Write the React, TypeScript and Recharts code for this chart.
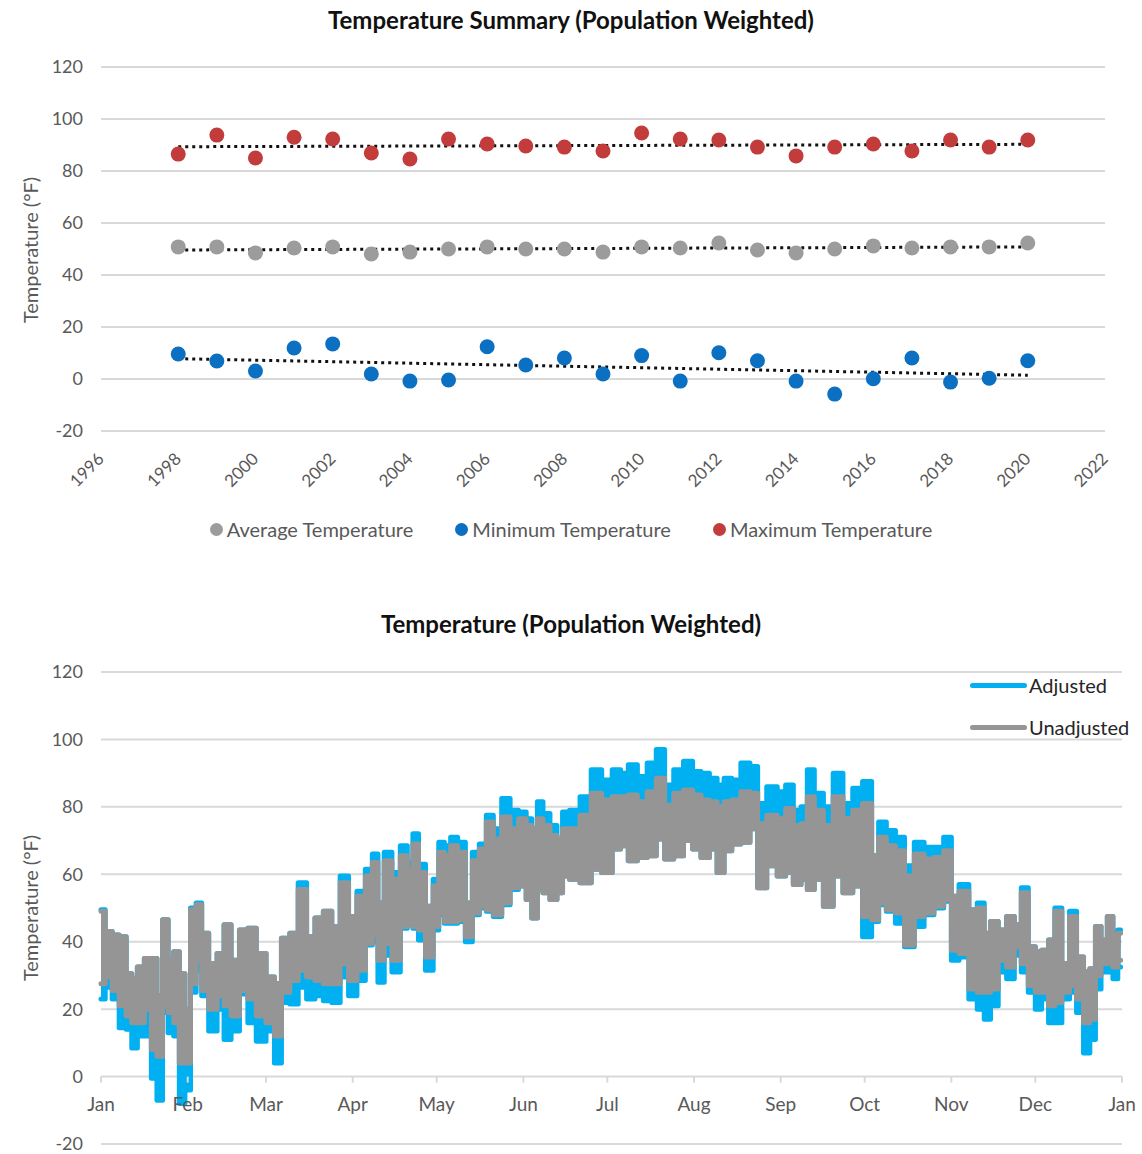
import { Area, CartesianGrid, ComposedChart, Line, Scatter, XAxis, YAxis } from 'recharts';

// ---- summary chart data ----
const years = [
  1998, 1999, 2000, 2001, 2002, 2003, 2004, 2005, 2006, 2007, 2008, 2009,
  2010, 2011, 2012, 2013, 2014, 2015, 2016, 2017, 2018, 2019, 2020,
];
const avgTemp = [
  50.8, 50.8, 48.5, 50.4, 50.8, 48.1, 48.8, 50, 50.8, 50, 50, 48.8,
  50.8, 50.4, 52.3, 49.6, 48.5, 50, 51.2, 50.4, 50.8, 50.8, 52.3,
];
const minTemp = [
  9.6, 6.9, 3.1, 11.9, 13.5, 1.9, -0.8, -0.4, 12.4, 5.4, 8.1, 1.9,
  9, -0.8, 10.1, 7, -0.8, -5.8, 0.1, 8.1, -1.2, 0.3, 7,
];
const maxTemp = [
  86.5, 93.8, 85, 93, 92.3, 86.9, 84.6, 92.3, 90.4, 89.6, 89.2, 87.7,
  94.6, 92.3, 91.9, 89.2, 85.8, 89.2, 90.4, 87.7, 91.9, 89.2, 91.9,
];
const yearTicks = [1996, 1998, 2000, 2002, 2004, 2006, 2008, 2010, 2012, 2014, 2016, 2018, 2020, 2022];
const tempTicks = [-20, 0, 20, 40, 60, 80, 100, 120];

// ---- daily chart data: daily swing (low / high) of the hourly trace ----
const monthLabels = ['Jan', 'Feb', 'Mar', 'Apr', 'May', 'Jun', 'Jul', 'Aug', 'Sep', 'Oct', 'Nov', 'Dec', 'Jan'];
const monthStartDays = [0, 31, 59, 90, 120, 151, 181, 212, 243, 273, 304, 334, 365];

const sampleDays = [
  0, 3, 5, 8, 10, 12, 14, 17, 19, 21, 23, 25, 27, 29,
  31, 33, 35, 37, 40, 43, 45, 48, 51, 54, 57,
  61, 63, 66, 69, 72, 75, 78, 81, 84, 87,
  90, 93, 96, 98, 100, 102.5, 105.5, 108.5, 110.5, 112.5, 114.5, 117.5,
  120, 121.5, 124, 126, 129, 131.5, 134, 136.5, 139, 141.5, 145, 147.5,
  151, 153, 155, 157, 159, 162, 164, 166, 169, 173.5, 177,
  181, 184.5, 187, 190, 193.5, 197, 200, 203, 206.5, 210,
  213, 216, 219, 221.5, 224, 227, 230.5, 233.5, 236, 240,
  243.5, 246, 249, 251.5, 253.5, 256.5, 260, 263.5, 267, 270.5,
  274, 277, 279, 282.5, 285.5, 289, 292.5, 296, 299.5, 303,
  305, 308.5, 312, 314.5, 317, 319, 322.5, 325, 328, 330,
  333, 335, 337.5, 340, 342, 345, 347.5, 350, 352.5, 354.5, 356.5, 358.5, 361, 362.5, 364.5,
];
const unadjustedHigh = [
  49, 43, 42, 41.5, 30.5, 29, 32.5, 35, 35, 24, 46.5, 34.5, 37, 30.5,
  20, 49.5, 51, 42.5, 33.5, 36.5, 45, 34.5, 43.5, 44, 36.5,
  29.5, 27.5, 41, 42.5, 55.5, 41.5, 47, 49, 44.5, 57.5,
  47.5, 53.5, 59.5, 63.5, 51.5, 64, 58.5, 65.5, 61.5, 69, 60.5, 50.5,
  56.5, 66.5, 65.5, 68.5, 66.5, 51.5, 64, 67.5, 75.5, 70.5, 77, 73.5,
  76.5, 74.5, 73.5, 76.5, 74.5, 71.5, 70.5, 73.5, 73.5, 77.5, 84,
  82, 83, 83, 83.5, 81.5, 84.5, 88.5, 80.5, 84, 85,
  83.5, 82, 81.5, 80, 81.5, 82, 84.5, 84, 75, 77.5,
  76.5, 79.5, 74.5, 75, 83, 79, 74.5, 83, 76.5, 79,
  81, 65.5, 71, 68.5, 67, 59.5, 66, 64.5, 65, 67,
  53.5, 55, 49.5, 50, 42.5, 46, 43.5, 47.5, 45, 54.5,
  38.5, 37, 37.5, 40.5, 49, 33.5, 47.5, 35.5, 31, 32, 44.5, 40.5, 47.5, 38.5, 42.5,
];
const unadjustedLow = [
  27.5, 29.5, 25.5, 21, 18, 16, 16, 20, 8, 6, 21, 19, 16, 4,
  4, 27.5, 34.5, 25.5, 20, 24, 21, 18, 25.5, 23, 18,
  16, 12, 25, 28.5, 31.5, 29.5, 28.5, 27.5, 27.5, 33.5,
  28.5, 31.5, 39.5, 42, 34.5, 39.5, 34.5, 44.5, 45.5, 44.5, 43.5, 35.5,
  44.5, 48.5, 46, 46, 46.5, 41.5, 48.5, 50.5, 49.5, 48, 51.5, 56,
  56.5, 52.5, 47, 55.5, 54.5, 52.5, 54.5, 59.5, 58.5, 57.5, 61.5,
  60.5, 67.5, 68.5, 64, 65, 65.5, 70.5, 64.5, 65.5, 70,
  67.5, 65, 67.5, 60.5, 67, 69, 69.5, 73.5, 56, 62.5,
  59.5, 60.5, 57, 58.5, 55.5, 58.5, 50.5, 59.5, 54.5, 56.5,
  47.5, 46.5, 51.5, 49.5, 48.5, 39, 47.5, 48.5, 50.5, 52.5,
  37.5, 36.5, 26, 25, 25, 26, 34.5, 32.5, 38.5, 33.5,
  27, 25, 25, 21, 22, 25, 27, 23, 16, 17, 30, 33.5, 33.5, 32.5, 34.5,
];
const adjustedHigh = [
  49.5, 43, 42, 41.5, 30.5, 29, 32.5, 35, 35, 24, 46.5, 34.5, 37, 30.5,
  20, 50, 51.5, 42.5, 33.5, 36.5, 45, 34.5, 43.5, 44, 36.5,
  29.5, 27.5, 41, 42.5, 57.5, 41.5, 47, 49, 44.5, 59.5,
  47.5, 55, 61.5, 66, 51.5, 66.5, 60.5, 68.5, 63.5, 72, 63, 50.5,
  58.5, 69.5, 68.5, 71, 69.5, 51.5, 66.5, 69, 77.5, 73.5, 82.5, 79,
  78.5, 76.5, 73.5, 81.5, 78, 74.5, 70.5, 78.5, 79, 83, 91,
  88, 91, 90, 92.5, 89, 93, 97, 86.5, 91, 93.5,
  90.5, 90, 88.5, 86.5, 88.5, 88, 93, 92, 81, 86,
  84.5, 86.5, 79, 80, 91, 84, 80, 90, 81, 85.5,
  87.5, 65.5, 75.5, 73, 71, 62.5, 69.5, 68, 68, 71,
  53.5, 57, 49.5, 51.5, 42.5, 46, 43.5, 47.5, 45, 56,
  38.5, 37, 37.5, 40.5, 50, 33.5, 49, 35.5, 31, 32, 44.5, 40.5, 47.5, 38.5, 43.5,
];
const adjustedLow = [
  23, 26.5, 23, 14.5, 14, 8.5, 12, 12, -0.5, -7, 19, 13, 12, -8,
  -4, 25, 31.5, 24, 13.5, 20, 11, 13.5, 24.5, 16, 10.5,
  13.5, 4, 22, 21.5, 26.5, 23, 24, 22.5, 22, 29.5,
  24, 28.5, 39, 40, 28, 36, 31, 44, 45, 44, 40.5, 31.5,
  43.5, 48, 45.5, 45.5, 46, 40, 48, 50, 49, 47.5, 51, 55.5,
  56.5, 52.5, 47, 55.5, 54.5, 52.5, 54.5, 59.5, 58.5, 57.5, 61.5,
  60.5, 67.5, 68.5, 64, 65, 65.5, 70.5, 64.5, 65.5, 70,
  67.5, 65, 67.5, 60.5, 67, 69, 69.5, 73.5, 56, 62.5,
  59.5, 60.5, 57, 58.5, 55.5, 58.5, 50.5, 59.5, 54.5, 56.5,
  41.5, 46, 51, 49, 45.5, 38.5, 44.5, 48, 50, 52,
  34.5, 35.5, 23, 20, 17, 21, 31, 29, 36, 31,
  25, 20, 23, 16, 16, 23, 25, 19, 7, 11, 26, 31, 31, 29, 32.5,
];

const AVG_COLOR = '#9c9c9c';
const MIN_COLOR = '#0b6fc2';
const MAX_COLOR = '#c33c3c';
const ADJ_COLOR = '#00b0f0';
const UNADJ_COLOR = '#959595';
const GRID_COLOR = '#d9d9d9';
const TICK_COLOR = '#595959';
const FONT = 'Lato, "Open Sans", sans-serif';

// layout of the daily chart plot area
const DAILY_TOP = 72;
const DAILY_HEIGHT = 472;
const ZERO_OFFSET = (DAILY_HEIGHT * 20) / 140;

// Excel-style linear trendline
function linearTrend(xs: number[], ys: number[]): number[] {
  const n = xs.length;
  const mx = xs.reduce((a, b) => a + b, 0) / n;
  const my = ys.reduce((a, b) => a + b, 0) / n;
  let sxy = 0;
  let sxx = 0;
  xs.forEach((x, i) => {
    sxy += (x - mx) * (ys[i] - my);
    sxx += (x - mx) * (x - mx);
  });
  const slope = sxy / sxx;
  return xs.map((x) => my + slope * (x - mx));
}

const avgTrend = linearTrend(years, avgTemp);
const minTrend = linearTrend(years, minTemp);
const maxTrend = linearTrend(years, maxTemp);

const summaryRows = years.map((year, i) => ({
  year,
  avg: avgTemp[i],
  min: minTemp[i],
  max: maxTemp[i],
  avgTrend: avgTrend[i],
  minTrend: minTrend[i],
  maxTrend: maxTrend[i],
}));

// the hourly trace swings between the daily low and high, so draw it as that band
const dailyRows = sampleDays.map((day, i) => ({
  day,
  adjusted: [adjustedLow[i], adjustedHigh[i]],
  unadjusted: [unadjustedLow[i], unadjustedHigh[i]],
}));

const summaryLegend = [
  { label: 'Average Temperature', color: AVG_COLOR },
  { label: 'Minimum Temperature', color: MIN_COLOR },
  { label: 'Maximum Temperature', color: MAX_COLOR },
];
const dailyLegend = [
  { label: 'Adjusted', color: ADJ_COLOR },
  { label: 'Unadjusted', color: UNADJ_COLOR },
];

function dot(color: string) {
  return (props: any) => <circle cx={props.cx} cy={props.cy} r={7.5} fill={color} />;
}

function YearTick({ x, y, payload }: any) {
  const ax = x + 4;
  const ay = y + 29;
  return (
    <text x={ax} y={ay} transform={`rotate(-45, ${ax}, ${ay})`} textAnchor="end" fill={TICK_COLOR} fontSize={17}>
      {payload.value}
    </text>
  );
}

function MonthTick({ x, y, payload }: any) {
  const zeroY = y - ZERO_OFFSET;
  const label = monthLabels[monthStartDays.indexOf(payload.value)];
  return (
    <g>
      <line x1={x} x2={x} y1={zeroY} y2={zeroY + 6} stroke={GRID_COLOR} strokeWidth={2} />
      <text x={x} y={zeroY + 34} textAnchor="middle" fill={TICK_COLOR} fontSize={19}>
        {label}
      </text>
    </g>
  );
}

const titleStyle: React.CSSProperties = {
  position: 'absolute',
  left: 0,
  width: 1142,
  textAlign: 'center',
  fontWeight: 700,
  fontSize: 24,
  lineHeight: '30px',
  color: '#111',
};

const axisTitleStyle: React.CSSProperties = {
  position: 'absolute',
  left: 30,
  transform: 'translate(-50%, -50%) rotate(-90deg)',
  whiteSpace: 'nowrap',
  fontSize: 20,
  color: TICK_COLOR,
};

export default function App() {
  return (
    <div style={{ position: 'relative', width: 1142, height: 1154, fontFamily: FONT, background: '#fff' }}>
      <style>{'body { margin: 0; }'}</style>

      {/* ---- yearly summary ---- */}
      <div style={{ ...titleStyle, top: 5 }}>Temperature Summary (Population Weighted)</div>
      <div style={{ ...axisTitleStyle, top: 250 }}>Temperature (°F)</div>
      <div style={{ position: 'absolute', top: 0, left: 0 }}>
        <ComposedChart width={1142} height={500} data={summaryRows} margin={{ top: 67, right: 37, bottom: 0, left: 0 }}>
          <CartesianGrid vertical={false} stroke={GRID_COLOR} strokeWidth={2} />
          <XAxis
            dataKey="year"
            type="number"
            domain={[1996, 2022]}
            ticks={yearTicks}
            interval={0}
            height={69}
            axisLine={false}
            tickLine={false}
            tickSize={0}
            tickMargin={0}
            tick={<YearTick />}
          />
          <YAxis
            type="number"
            domain={[-20, 120]}
            ticks={tempTicks}
            interval={0}
            width={101}
            axisLine={false}
            tickLine={false}
            tickSize={0}
            tickMargin={18}
            tick={{ fill: TICK_COLOR, fontSize: 18 }}
          />
          <Scatter dataKey="avg" shape={dot(AVG_COLOR)} isAnimationActive={false} />
          <Scatter dataKey="min" shape={dot(MIN_COLOR)} isAnimationActive={false} />
          <Scatter dataKey="max" shape={dot(MAX_COLOR)} isAnimationActive={false} />
          <Line dataKey="avgTrend" stroke="#111" strokeWidth={3} strokeDasharray="3 4" dot={false} isAnimationActive={false} />
          <Line dataKey="minTrend" stroke="#111" strokeWidth={3} strokeDasharray="3 4" dot={false} isAnimationActive={false} />
          <Line dataKey="maxTrend" stroke="#111" strokeWidth={3} strokeDasharray="3 4" dot={false} isAnimationActive={false} />
        </ComposedChart>
      </div>
      <div
        style={{
          position: 'absolute',
          top: 517,
          left: 0,
          width: 1142,
          display: 'flex',
          justifyContent: 'center',
          gap: 42,
          fontSize: 20,
          color: TICK_COLOR,
        }}
      >
        {summaryLegend.map((item) => (
          <div key={item.label} style={{ display: 'flex', alignItems: 'center', gap: 4 }}>
            <span style={{ width: 13, height: 13, borderRadius: 7, background: item.color, display: 'inline-block' }} />
            <span>{item.label}</span>
          </div>
        ))}
      </div>

      {/* ---- daily profile ---- */}
      <div style={{ ...titleStyle, top: 609 }}>Temperature (Population Weighted)</div>
      <div style={{ ...axisTitleStyle, top: 908 }}>Temperature (°F)</div>
      <div style={{ position: 'absolute', top: 600, left: 0 }}>
        <ComposedChart
          width={1142}
          height={DAILY_TOP + DAILY_HEIGHT + 10}
          data={dailyRows}
          margin={{ top: DAILY_TOP, right: 20, bottom: 0, left: 0 }}
        >
          <CartesianGrid vertical={false} stroke={GRID_COLOR} strokeWidth={2} />
          <XAxis
            dataKey="day"
            type="number"
            domain={[0, 365]}
            ticks={monthStartDays}
            interval={0}
            height={10}
            axisLine={false}
            tickLine={false}
            tickSize={0}
            tickMargin={0}
            tick={<MonthTick />}
          />
          <YAxis
            type="number"
            domain={[-20, 120]}
            ticks={tempTicks}
            interval={0}
            width={101}
            axisLine={false}
            tickLine={false}
            tickSize={0}
            tickMargin={18}
            tick={{ fill: TICK_COLOR, fontSize: 18 }}
          />
          <Area
            type="step"
            dataKey="adjusted"
            stroke={ADJ_COLOR}
            strokeWidth={5}
            strokeLinejoin="round"
            strokeLinecap="round"
            fill={ADJ_COLOR}
            fillOpacity={1}
            dot={false}
            activeDot={false}
            isAnimationActive={false}
          />
          <Area
            type="step"
            dataKey="unadjusted"
            stroke={UNADJ_COLOR}
            strokeWidth={5}
            strokeLinejoin="round"
            strokeLinecap="round"
            fill={UNADJ_COLOR}
            fillOpacity={1}
            dot={false}
            activeDot={false}
            isAnimationActive={false}
          />
        </ComposedChart>
      </div>
      <div style={{ position: 'absolute', top: 664, left: 970, fontSize: 20, color: '#262626' }}>
        {dailyLegend.map((item) => (
          <div key={item.label} style={{ display: 'flex', alignItems: 'center', height: 42 }}>
            <span style={{ width: 57, height: 5, borderRadius: 3, background: item.color, display: 'inline-block', marginRight: 2 }} />
            <span>{item.label}</span>
          </div>
        ))}
      </div>
    </div>
  );
}
